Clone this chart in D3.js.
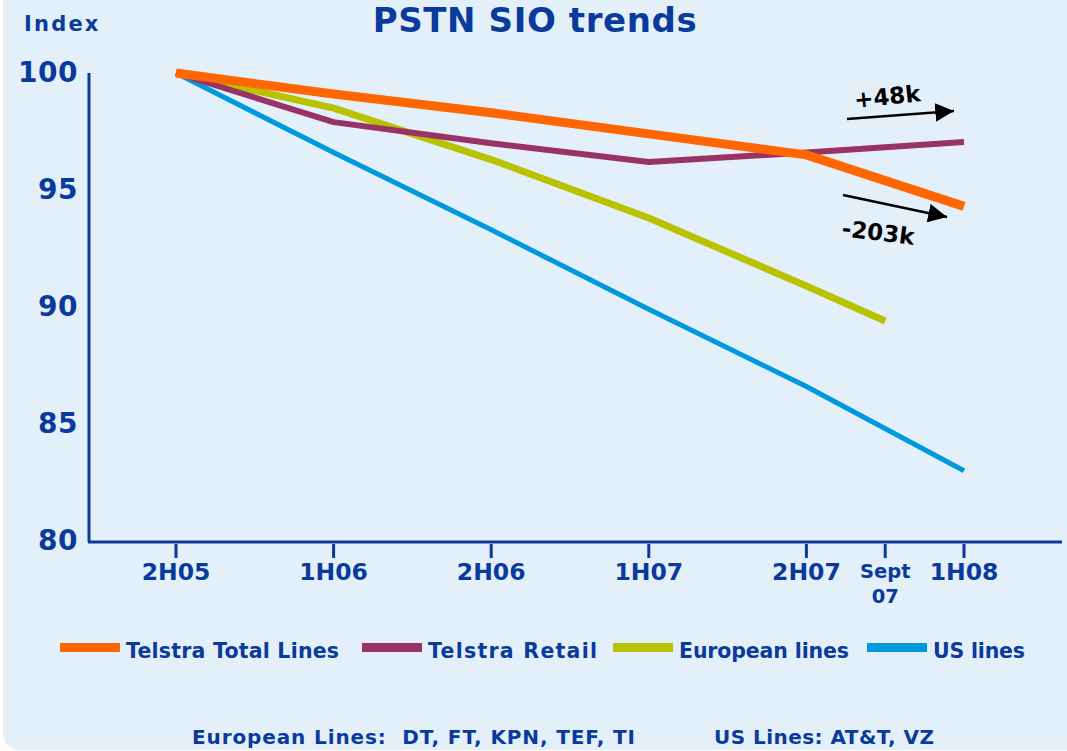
<!DOCTYPE html>
<html>
<head>
<meta charset="utf-8">
<script src="https://cdn.jsdelivr.net/npm/d3@7"></script>
<style>
  body { margin: 0; background: #fff; }
  svg text { font-family: "DejaVu Sans", Verdana, sans-serif; font-weight: bold; }
</style>
</head>
<body>
<svg id="chart" width="1067" height="751"></svg>
<script>
// data
var categories = ['2H05', '1H06', '2H06', '1H07', '2H07', 'Sept 07', '1H08'];
var periods    = [0, 1, 2, 3, 4, 4.5, 5];
var telstraTotal  = [100, 99.1, 98.3, 97.4, 96.5, null, 94.3];
var telstraRetail = [100, 97.9, 97.0, 96.2, 96.6, null, 97.05];
var european      = [100, 98.5, 96.3, 93.8, 90.9, 89.4, null];
var usLines       = [100, 96.6, 93.3, 89.9, 86.6, null, 83.0];
var yTicks = [80, 85, 90, 95, 100];
var seriesNames = ['Telstra Total Lines', 'Telstra Retail', 'European lines', 'US lines'];

var navy = '#0a3a9c';
var svg = d3.select('#chart');

// panel
svg.append('rect')
  .attr('x', 3).attr('y', -30).attr('width', 1100).attr('height', 780)
  .attr('rx', 16).attr('fill', '#e4f0f9');

var x = d3.scaleLinear().domain([0, 5]).range([176, 964]);
var y = d3.scaleLinear().domain([80, 100]).range([541, 73]);

// title + index label
svg.append('text').attr('x', 535).attr('y', 32).attr('text-anchor', 'middle')
  .attr('font-size', 34).attr('letter-spacing', 0.6).attr('fill', navy).text('PSTN SIO trends');
svg.append('text').attr('x', 24).attr('y', 31)
  .attr('font-size', 21).attr('letter-spacing', 2.2).attr('fill', navy).text('Index');

// y axis
var yAxis = svg.append('g').attr('transform', 'translate(89,0)')
  .call(d3.axisLeft(y).tickValues(yTicks).tickSize(0).tickPadding(11));
yAxis.select('.domain').attr('stroke', navy).attr('stroke-width', 3)
  .attr('d', 'M0,' + y(100) + 'V' + (y(80) + 1));
yAxis.selectAll('text').attr('font-size', 28).attr('letter-spacing', 0.5).attr('fill', navy)
  .attr('font-family', '"DejaVu Sans", Verdana, sans-serif').attr('font-weight', 'bold');

// x axis
var xAxisG = svg.append('g').attr('transform', 'translate(0,542)');
xAxisG.append('line').attr('x1', 88).attr('x2', 1062).attr('y1', 0).attr('y2', 0)
  .attr('stroke', navy).attr('stroke-width', 3);
var tick = xAxisG.selectAll('.tick').data(categories).enter().append('g')
  .attr('class', 'tick').attr('transform', function(d, i) { return 'translate(' + x(periods[i]) + ',0)'; });
tick.append('line').attr('y1', 2).attr('y2', 16).attr('stroke', navy).attr('stroke-width', 3);
tick.each(function(d) {
  var g = d3.select(this);
  if (d.indexOf(' ') > 0) {
    var parts = d.split(' ');
    g.append('text').attr('y', 36).attr('text-anchor', 'middle').attr('font-size', 19.5)
      .attr('fill', navy).text(parts[0]);
    g.append('text').attr('y', 61).attr('text-anchor', 'middle').attr('font-size', 19.5)
      .attr('fill', navy).text(parts[1]);
  } else {
    g.append('text').attr('y', 38).attr('text-anchor', 'middle').attr('font-size', 23.5)
      .attr('fill', navy).text(d);
  }
});

// lines
var series = [
  { name: seriesNames[3], values: usLines,       color: '#0099dd', w: 5 },
  { name: seriesNames[2], values: european,      color: '#b9c200', w: 7 },
  { name: seriesNames[1], values: telstraRetail, color: '#993366', w: 6 },
  { name: seriesNames[0], values: telstraTotal,  color: '#ff6600', w: 9 }
];
var line = d3.line()
  .defined(function(d) { return d.v != null; })
  .x(function(d) { return x(d.p); })
  .y(function(d) { return y(d.v); });
series.forEach(function(s) {
  var pts = s.values.map(function(v, i) { return { p: periods[i], v: v }; })
    .filter(function(d) { return d.v != null; });
  svg.append('path').datum(pts).attr('d', line)
    .attr('fill', 'none').attr('stroke', s.color).attr('stroke-width', s.w)
    .attr('stroke-linejoin', 'round');
});

// annotations
var defs = svg.append('defs');
defs.append('marker').attr('id', 'arr').attr('viewBox', '0 0 10 10')
  .attr('refX', 10).attr('refY', 5).attr('markerWidth', 7.5).attr('markerHeight', 7.5)
  .attr('markerUnits', 'strokeWidth').attr('orient', 'auto')
  .append('path').attr('d', 'M0,0L10,5L0,10Z').attr('fill', '#000');
svg.append('line').attr('x1', 847).attr('y1', 119).attr('x2', 954).attr('y2', 111)
  .attr('stroke', '#000').attr('stroke-width', 2.5).attr('marker-end', 'url(#arr)');
svg.append('text').attr('transform', 'translate(855,108) rotate(-6)')
  .attr('font-size', 23).attr('fill', '#000').text('+48k');
svg.append('line').attr('x1', 843).attr('y1', 195).attr('x2', 947).attr('y2', 217)
  .attr('stroke', '#000').attr('stroke-width', 2.5).attr('marker-end', 'url(#arr)');
svg.append('text').attr('transform', 'translate(841,236) rotate(7)')
  .attr('font-size', 23).attr('fill', '#000').text('-203k');

// legend
var legendX = [60, 362, 613, 867];
var legendW = [213, 169, 170, 92];
var legendColors = ['#ff6600', '#993366', '#b9c200', '#0099dd'];
var lg = svg.selectAll('.leg').data(seriesNames).enter().append('g')
  .attr('class', 'leg').attr('transform', function(d, i) { return 'translate(' + legendX[i] + ',643)'; });
lg.append('rect').attr('width', 60).attr('height', 9).attr('fill', function(d, i) { return legendColors[i]; });
lg.append('text').attr('x', 66).attr('y', 15).attr('font-size', 20.5).attr('fill', navy)
  .attr('textLength', function(d, i) { return legendW[i]; })
  .attr('lengthAdjust', 'spacing')
  .text(function(d) { return d; });

// footnote
svg.append('text').attr('x', 192).attr('y', 744).attr('font-size', 20).attr('fill', navy)
  .attr('xml:space', 'preserve').attr('textLength', 443).attr('lengthAdjust', 'spacing')
  .text('European Lines:  DT, FT, KPN, TEF, TI');
svg.append('text').attr('x', 714).attr('y', 744).attr('font-size', 20).attr('fill', navy)
  .attr('textLength', 220).attr('lengthAdjust', 'spacing')
  .text('US Lines: AT&T, VZ');
</script>
</body>
</html>
